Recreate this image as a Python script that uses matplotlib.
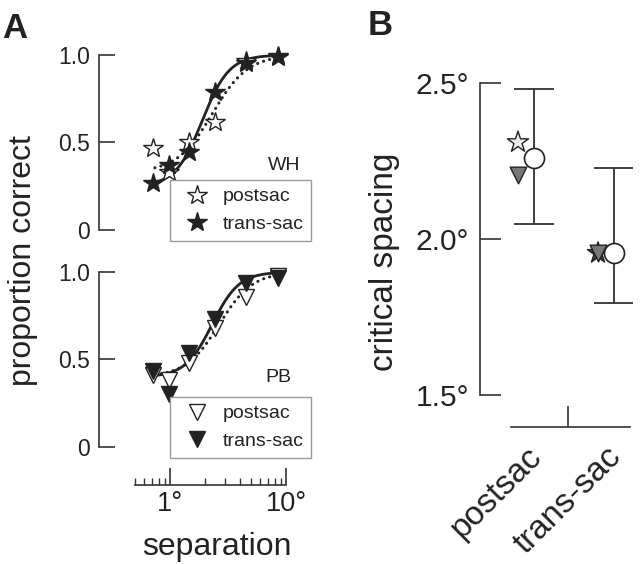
import numpy as np
import matplotlib.pyplot as plt
from matplotlib.lines import Line2D
from matplotlib.ticker import FixedLocator, NullFormatter
from matplotlib.transforms import ScaledTranslation

plt.rcParams['font.family'] = ['Liberation Sans', 'DejaVu Sans']

W, H = 640, 564
INK = '#222222'

# panel A data: separation (deg) and proportion correct
separation = [0.72, 0.98, 1.47, 2.44, 4.5, 8.6]
wh_postsac = [0.467, 0.333, 0.505, 0.619, 0.967, 0.99]
wh_transsac = [0.27, 0.37, 0.447, 0.79, 0.953, 0.994]
pb_postsac = [0.411, 0.383, 0.478, 0.678, 0.855, 0.977]
pb_transsac = [0.434, 0.301, 0.535, 0.731, 0.935, 0.964]

# logistic fits in log10(separation): (lower, midpoint, slope)
wh_fit_postsac = (0.33, 0.365, 0.153)
wh_fit_transsac = (0.25, 0.278, 0.116)
pb_fit_postsac = (0.40, 0.423, 0.144)
pb_fit_transsac = (0.40, 0.363, 0.116)

# panel B data: critical spacing (deg)
conditions = ['postsac', 'trans-sac']
cs_mean = [2.26, 1.955]
cs_upper = [2.48, 2.227]
cs_lower = [2.048, 1.795]
cs_wh = [2.31, 1.955]
cs_pb = [2.205, 1.955]


def fpos(x0, y0, x1, y1):
    # pixel box -> figure fraction [left, bottom, width, height]
    return [x0 / W, 1 - y1 / H, (x1 - x0) / W, (y1 - y0) / H]


def fxy(x, y):
    return x / W, 1 - y / H


def logistic(x, lo, m, s):
    return lo + (1 - lo) / (1 + np.exp(-(np.log10(x) - m) / s))


fig = plt.figure(figsize=(6.4, 5.64), dpi=100)

ax_wh = fig.add_axes(fpos(99, 40, 310, 255))
ax_pb = fig.add_axes(fpos(99, 262, 310, 485))
ax_b = fig.add_axes(fpos(480, 40, 632, 427))

xfit = np.logspace(np.log10(0.74), np.log10(8.6), 300)
DOTS = (0, (0.05, 2.0))

for ax in (ax_wh, ax_pb):
    ax.set_xscale('log')
    ax.set_xlim(10 ** ((99 - 170) / 116), 10 ** ((310 - 170) / 116))
    for side in ('top', 'right'):
        ax.spines[side].set_visible(False)
    ax.spines['left'].set_bounds(0, 1)
    ax.spines['left'].set_color('#333333')
    ax.spines['left'].set_linewidth(1.2)
    ax.set_yticks([0, 0.5, 1.0], ['0', '0.5', '1.0'])
    ax.tick_params(axis='y', direction='in', length=11.5, width=1.2,
                   pad=6.5, labelsize=16.5, colors='#333333', labelcolor=INK)

ax_wh.set_ylim(-0.1429, 1.0857)
ax_pb.set_ylim(-0.2171, 1.057)

ax_wh.spines['bottom'].set_visible(False)
ax_wh.xaxis.set_visible(False)

ax_pb.spines['bottom'].set_bounds(0.5, 10)
ax_pb.spines['bottom'].set_color('#333333')
ax_pb.spines['bottom'].set_linewidth(1.2)
ax_pb.xaxis.set_major_locator(FixedLocator([1, 10]))
ax_pb.set_xticklabels(['1°', '10°'])
ax_pb.xaxis.set_minor_locator(FixedLocator([0.5, 0.6, 0.7, 0.8, 0.9] + list(range(2, 10))))
ax_pb.xaxis.set_minor_formatter(NullFormatter())
ax_pb.tick_params(axis='x', which='major', direction='in', length=12, width=1.2,
                  pad=4, labelsize=19.5, colors='#333333', labelcolor=INK)
ax_pb.tick_params(axis='x', which='minor', direction='in', length=5, width=1.0,
                  colors='#333333')

# WH: stars
ax_wh.plot(xfit, logistic(xfit, *wh_fit_postsac), color=INK, lw=2.2,
           ls=DOTS, dash_capstyle='round')
ax_wh.plot(xfit, logistic(xfit, *wh_fit_transsac), color=INK, lw=2)
ax_wh.plot(separation, wh_postsac, ls='none', marker='*', ms=15,
           mfc='white', mec=INK, mew=1.0)
ax_wh.plot(separation, wh_transsac, ls='none', marker='*', ms=15,
           mfc=INK, mec=INK, mew=1.0)

# PB: triangles
ax_pb.plot(xfit, logistic(xfit, *pb_fit_postsac), color=INK, lw=2.2,
           ls=DOTS, dash_capstyle='round')
ax_pb.plot(xfit, logistic(xfit, *pb_fit_transsac), color=INK, lw=2)
ax_pb.plot(separation, pb_postsac, ls='none', marker='v', ms=11,
           mfc='white', mec=INK, mew=1.0)
ax_pb.plot(separation, pb_transsac, ls='none', marker='v', ms=11,
           mfc=INK, mec=INK, mew=1.0)

leg_kw = dict(loc='upper left', bbox_transform=fig.transFigure, fontsize=14,
              frameon=True, fancybox=False, framealpha=1, edgecolor='#999999',
              borderpad=0.4, handlelength=2.0, handletextpad=0.3,
              labelspacing=0.5, borderaxespad=0)

wh_handles = [Line2D([], [], ls='none', marker='*', ms=15, mfc='white', mec=INK),
              Line2D([], [], ls='none', marker='*', ms=15, mfc=INK, mec=INK)]
leg = ax_wh.legend(wh_handles, ['postsac', 'trans-sac'],
                   bbox_to_anchor=fxy(170, 180), **leg_kw)
leg.get_frame().set_linewidth(1.0)
for t in leg.get_texts():
    t.set_color(INK)

pb_handles = [Line2D([], [], ls='none', marker='v', ms=11, mfc='white', mec=INK),
              Line2D([], [], ls='none', marker='v', ms=11, mfc=INK, mec=INK)]
leg = ax_pb.legend(pb_handles, ['postsac', 'trans-sac'],
                   bbox_to_anchor=fxy(170, 397), **leg_kw)
leg.get_frame().set_linewidth(1.0)
for t in leg.get_texts():
    t.set_color(INK)

fig.text(*fxy(300, 165), 'WH', ha='right', va='center', fontsize=14, color=INK)
fig.text(*fxy(291, 378), 'PB', ha='right', va='center', fontsize=14, color=INK)

# panel B
xs = np.arange(1, len(conditions) + 1)
ax_b.set_xlim(0.325, 2.225)
ax_b.set_ylim(1.3974, 2.6378)
for side in ('top', 'right'):
    ax_b.spines[side].set_visible(False)
ax_b.spines['left'].set_bounds(1.5, 2.5)
ax_b.spines['bottom'].set_bounds(0.71, 2.2)
for side in ('left', 'bottom'):
    ax_b.spines[side].set_color('#333333')
    ax_b.spines[side].set_linewidth(1.2)
ax_b.set_yticks([1.5, 2.0, 2.5], ['1.5°', '2.0°', '2.5°'])
ax_b.tick_params(axis='y', direction='in', length=15, width=1.2, pad=8,
                 labelsize=21.5, colors='#333333', labelcolor=INK)
ax_b.set_xticks([1.42], [''])
ax_b.tick_params(axis='x', direction='in', length=15, width=1.2,
                 colors='#333333')
shift = ScaledTranslation(-8 / 100, -14 / 100, fig.dpi_scale_trans)
for x, name in zip(xs, conditions):
    ax_b.text(x, 0, name, transform=ax_b.get_xaxis_transform() + shift,
              rotation=45, ha='right', va='top', rotation_mode='anchor',
              fontsize=24, color=INK)

mean = np.array(cs_mean)
ax_b.errorbar(xs, mean, yerr=[mean - np.array(cs_lower), np.array(cs_upper) - mean],
              fmt='none', ecolor='#333333', elinewidth=1.3, capsize=14.4,
              capthick=1.3, zorder=2)
ax_b.scatter(xs - 0.2, cs_wh, marker='*', s=16 ** 2, c=['#eeeeee', '#444444'],
             edgecolors=INK, linewidths=1.0, zorder=3)
ax_b.scatter(xs - 0.2, cs_pb, marker='v', s=12 ** 2, c='#777777',
             edgecolors=INK, linewidths=1.0, zorder=4)
ax_b.plot(xs, cs_mean, ls='none', marker='o', ms=14.4, mfc='white', mec=INK,
          mew=1.2, zorder=5)

# axis labels and panel letters
fig.text(*fxy(23, 261), 'proportion correct', rotation=90, ha='center',
         va='center', fontsize=23, color=INK)
fig.text(*fxy(217, 555), 'separation', ha='center', va='baseline',
         fontsize=23, color=INK)
fig.text(*fxy(385, 262), 'critical spacing', rotation=90, ha='center',
         va='center', fontsize=24, color=INK)
fig.text(*fxy(2, 38), 'A', ha='left', va='baseline', fontsize=25,
         fontweight='bold', color=INK)
fig.text(*fxy(368, 35), 'B', ha='left', va='baseline', fontsize=25,
         fontweight='bold', color=INK)

fig.savefig('out.png', dpi=100)
